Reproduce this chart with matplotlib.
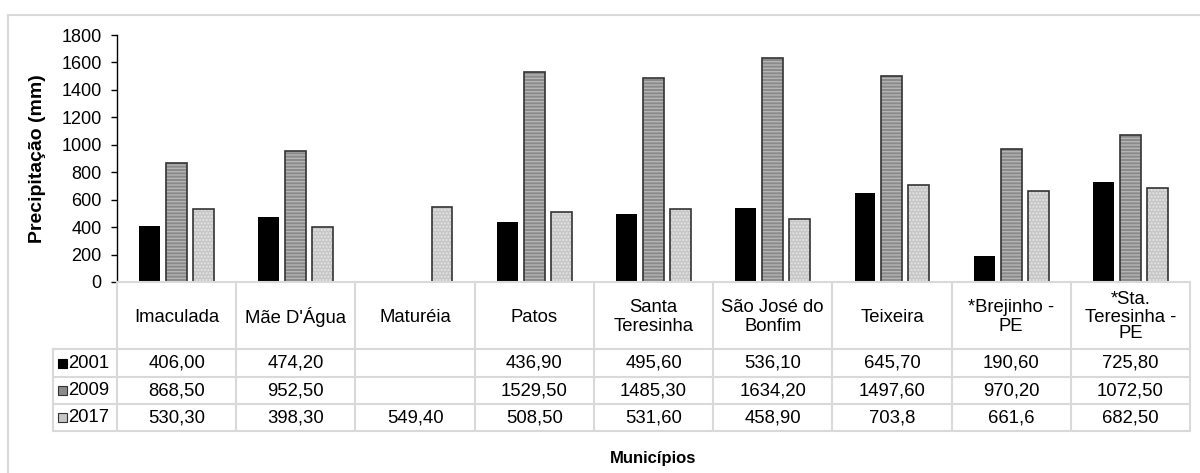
import matplotlib.pyplot as plt
from matplotlib.patches import Rectangle

plt.rcParams['font.family'] = ['Liberation Sans', 'DejaVu Sans']

municipios = ["Imaculada", "Mãe D'Água", "Maturéia", "Patos", "Santa\nTeresinha",
              "São José do\nBonfim", "Teixeira", "*Brejinho -\nPE", "*Sta.\nTeresinha -\nPE"]
anos = ["2001", "2009", "2017"]
txt_2001 = ["406,00", "474,20", "", "436,90", "495,60", "536,10", "645,70", "190,60", "725,80"]
txt_2009 = ["868,50", "952,50", "", "1529,50", "1485,30", "1634,20", "1497,60", "970,20", "1072,50"]
txt_2017 = ["530,30", "398,30", "549,40", "508,50", "531,60", "458,90", "703,8", "661,6", "682,50"]
yticks = [0, 200, 400, 600, 800, 1000, 1200, 1400, 1600, 1800]


def to_num(lista):
    return [float(s.replace(",", ".")) if s else 0.0 for s in lista]


series = [to_num(txt_2001), to_num(txt_2009), to_num(txt_2017)]
textos = [txt_2001, txt_2009, txt_2017]

W, H = 1200, 473
fig = plt.figure(figsize=(12, 4.73), dpi=100)

# moldura externa cinza
fig.add_artist(Rectangle((8 / W, -0.01), 1.2, (H - 15) / H + 0.01, transform=fig.transFigure,
                         fill=False, edgecolor="#d9d9d9", lw=1.5))

x0, x1 = 117, 1190
ax = fig.add_axes([x0 / W, (H - 282) / H, (x1 - x0) / W, (282 - 35) / H])
n = len(municipios)
xs = list(range(n))

cores = ["black", "#8a8a8a", "#c6c6c6"]
hatches = [None, "-----", "....."]
hcor = ["black", "#b5b5b5", "#e6e6e6"]
desloc = [-0.226, 0.0, 0.226]
larg = 0.176

for k in range(3):
    pos = [x + desloc[k] for x in xs]
    if k == 0:
        ax.bar(pos, series[k], width=larg, color="black", lw=0)
    else:
        ax.bar(pos, series[k], width=larg, color=cores[k], edgecolor=hcor[k],
               hatch=hatches[k], lw=0)
        ax.bar(pos, series[k], width=larg, fill=False, edgecolor="#333333", lw=1.2)

ax.set_xlim(-0.5, n - 0.5)
ax.set_ylim(0, 1800)
ax.set_yticks(yticks)
ax.tick_params(axis="y", labelsize=13, length=4, width=1, pad=7)
ax.set_xticks([])
for s in ["top", "right", "bottom"]:
    ax.spines[s].set_visible(False)
ax.spines["left"].set_linewidth(1)
ax.set_ylabel("Precipitação (mm)", fontsize=14, fontweight="bold")
ax.yaxis.set_label_coords(-0.066, 0.5)

# tabela de dados abaixo
tax = fig.add_axes([x0 / W, (H - 431) / H, (x1 - x0) / W, (431 - 282) / H])
tax.set_xlim(0, n)
tax.set_ylim(149, 0)
tax.axis("off")

gcor = "#d9d9d9"
gl = 1.5
leg_x = (53 - x0) / (x1 - x0) * n
linhas_y = [0, 67, 95, 122, 149]
tax.plot([0, n], [0, 0], color=gcor, lw=gl, clip_on=False)
for y in linhas_y[1:]:
    tax.plot([leg_x, n], [y, y], color=gcor, lw=gl, clip_on=False)
for i in range(n + 1):
    tax.plot([i, i], [0, 149], color=gcor, lw=gl, clip_on=False)
tax.plot([leg_x, leg_x], [67, 149], color=gcor, lw=gl, clip_on=False)

for i, nome in enumerate(municipios):
    tax.text(i + 0.5, 35, nome, ha="center", va="center", fontsize=13.3,
             linespacing=1.0 if nome.count("\n") > 1 else 1.15)

for k in range(3):
    yc = (linhas_y[k + 1] + linhas_y[k + 2]) / 2
    for i, t in enumerate(textos[k]):
        tax.text(i + 0.5, yc, t, ha="center", va="center", fontsize=13.3)
    mx = (58 - x0) / (x1 - x0) * n
    mw = 9 / (x1 - x0) * n
    tax.add_patch(Rectangle((mx, yc - 4.5), mw, 9, facecolor=cores[k],
                            edgecolor="black" if k == 0 else "#333333", lw=0.8,
                            clip_on=False))
    tax.text(mx + mw + 0.01, yc, anos[k], ha="left", va="center", fontsize=13.3)

fig.text((x0 + x1) / 2 / W, (H - 458) / H, "Municípios", ha="center", va="center",
         fontsize=12, fontweight="bold")

plt.savefig("out.png", dpi=100)
